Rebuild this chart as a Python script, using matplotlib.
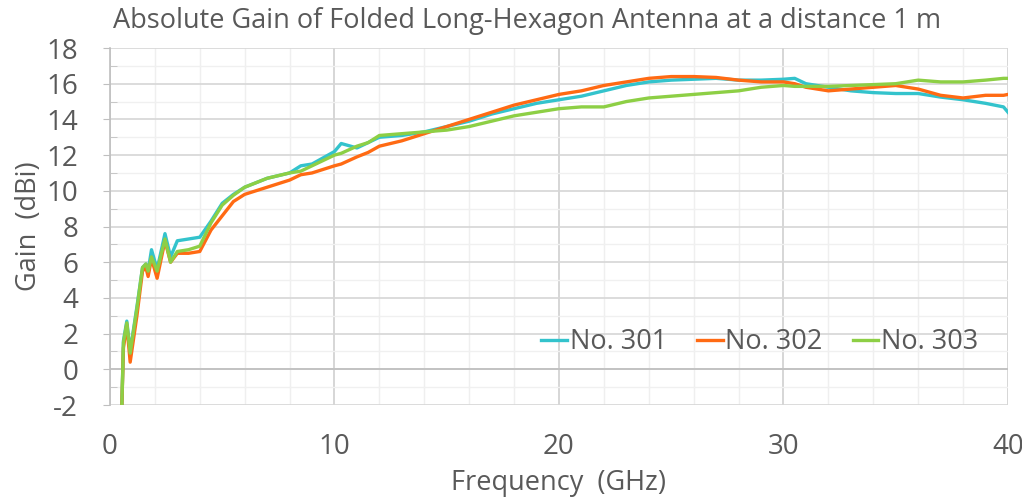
import matplotlib.pyplot as plt
from matplotlib.ticker import MultipleLocator

plt.rcParams['font.family'] = ['Open Sans', 'DejaVu Sans']
plt.rcParams['axes.unicode_minus'] = False

# Données (fréquence en GHz, gain en dBi)
freq = [0.53, 0.6, 0.75, 0.9, 1.2, 1.45, 1.6, 1.7, 1.85, 2.1, 2.45, 2.7, 3.0, 3.5,
        4.0, 4.5, 5.0, 5.5, 6.0, 7.0, 8.0, 8.5, 9.0, 10.0, 10.3, 11.0, 11.5, 12.0,
        13.0, 14.0, 15.0, 16.0, 17.0, 18.0, 19.0, 20.0, 21.0, 22.0, 23.0, 24.0,
        25.0, 26.0, 27.0, 28.0, 29.0, 30.0, 30.5, 31.0, 32.0, 33.0, 34.0, 35.0,
        36.0, 37.0, 38.0, 39.0, 39.8, 40.0]

gain_301 = [-2.0, 1.6, 2.7, 1.0, 3.5, 5.7, 5.9, 5.5, 6.7, 5.6, 7.6, 6.3, 7.2, 7.3,
            7.4, 8.3, 9.3, 9.8, 10.2, 10.7, 11.0, 11.4, 11.5, 12.2, 12.65, 12.4, 12.7, 13.0,
            13.1, 13.3, 13.6, 13.9, 14.3, 14.6, 14.9, 15.1, 15.3, 15.6, 15.9, 16.1,
            16.2, 16.25, 16.3, 16.2, 16.2, 16.25, 16.3, 16.0, 15.8, 15.6, 15.5, 15.45,
            15.45, 15.25, 15.1, 14.9, 14.7, 14.4]

gain_302 = [-2.0, 1.2, 2.5, 0.4, 3.0, 5.5, 5.7, 5.2, 6.2, 5.1, 7.2, 6.0, 6.5, 6.5,
            6.6, 7.8, 8.6, 9.4, 9.8, 10.2, 10.6, 10.9, 11.0, 11.4, 11.5, 11.9, 12.15, 12.5,
            12.8, 13.2, 13.6, 14.0, 14.4, 14.8, 15.1, 15.4, 15.6, 15.9, 16.1, 16.3,
            16.4, 16.4, 16.35, 16.2, 16.1, 16.1, 16.0, 15.8, 15.6, 15.7, 15.8, 15.9,
            15.7, 15.35, 15.2, 15.35, 15.35, 15.4]

gain_303 = [-2.0, 1.5, 2.6, 0.9, 3.4, 5.7, 5.9, 5.5, 6.3, 5.5, 7.3, 6.0, 6.6, 6.7,
            6.9, 8.2, 9.2, 9.75, 10.2, 10.7, 11.0, 11.1, 11.4, 12.0, 12.1, 12.5, 12.7, 13.1,
            13.2, 13.3, 13.4, 13.6, 13.9, 14.2, 14.4, 14.6, 14.7, 14.7, 15.0, 15.2,
            15.3, 15.4, 15.5, 15.6, 15.8, 15.9, 15.85, 15.85, 15.85, 15.9, 15.95, 16.0,
            16.2, 16.1, 16.1, 16.2, 16.3, 16.3]

labels = ['No. 301', 'No. 302', 'No. 303']
colors = ['#33c3cc', '#ff6a13', '#8dcf45']

fig = plt.figure(figsize=(10.22, 5.0), dpi=100)
ax = fig.add_axes([0.1076, 0.19, 0.8787, 0.714])

for g, lab, c in zip([gain_301, gain_302, gain_303], labels, colors):
    ax.plot(freq, g, color=c, lw=2.4, label=lab)

ax.set_xlim(0, 40)
ax.set_ylim(-2, 18)
ax.xaxis.set_major_locator(MultipleLocator(10))
ax.xaxis.set_minor_locator(MultipleLocator(2))
ax.yaxis.set_major_locator(MultipleLocator(2))
ax.yaxis.set_minor_locator(MultipleLocator(1))

# grille façon Excel
ax.grid(which='major', axis='x', color='#d0d0d0', lw=1.2)
ax.grid(which='minor', axis='x', color='#efefef', lw=1.0)
ax.grid(which='major', axis='y', color='#d6d6d6', lw=1.2)
ax.grid(which='minor', axis='y', color='#f0f0f0', lw=1.0)
ax.set_axisbelow(True)

for s in ['top', 'right', 'bottom']:
    ax.spines[s].set_visible(False)
ax.spines['left'].set_color('#bfbfbf')
ax.spines['left'].set_linewidth(1.2)
ax.axhline(0, color='#bfbfbf', lw=1.2, zorder=1)

ax.tick_params(axis='y', which='major', direction='out', length=5, color='#bfbfbf',
               labelsize=20, labelcolor='#595959', pad=18)
ax.tick_params(axis='y', which='minor', direction='in', length=5, color='#bfbfbf')
ax.tick_params(axis='x', which='both', length=0, labelsize=20, labelcolor='#595959', pad=20)

ax.set_xlabel('Frequency  (GHz)', fontsize=19.5, color='#595959', labelpad=6)
ax.set_ylabel('Gain  (dBi)', fontsize=19.5, color='#595959', labelpad=2)
fig.text(0.111, 0.958, 'Absolute Gain of Folded Long-Hexagon Antenna at a distance 1 m',
         fontsize=19.5, color='#595959', ha='left', va='center')

ax.legend(loc='center right', bbox_to_anchor=(0.994, 0.176), ncol=3, frameon=False,
          fontsize=19.5, labelcolor='#595959', handlelength=0.95, handletextpad=0.1,
          columnspacing=1.1)

fig.savefig('out.png', dpi=100)
